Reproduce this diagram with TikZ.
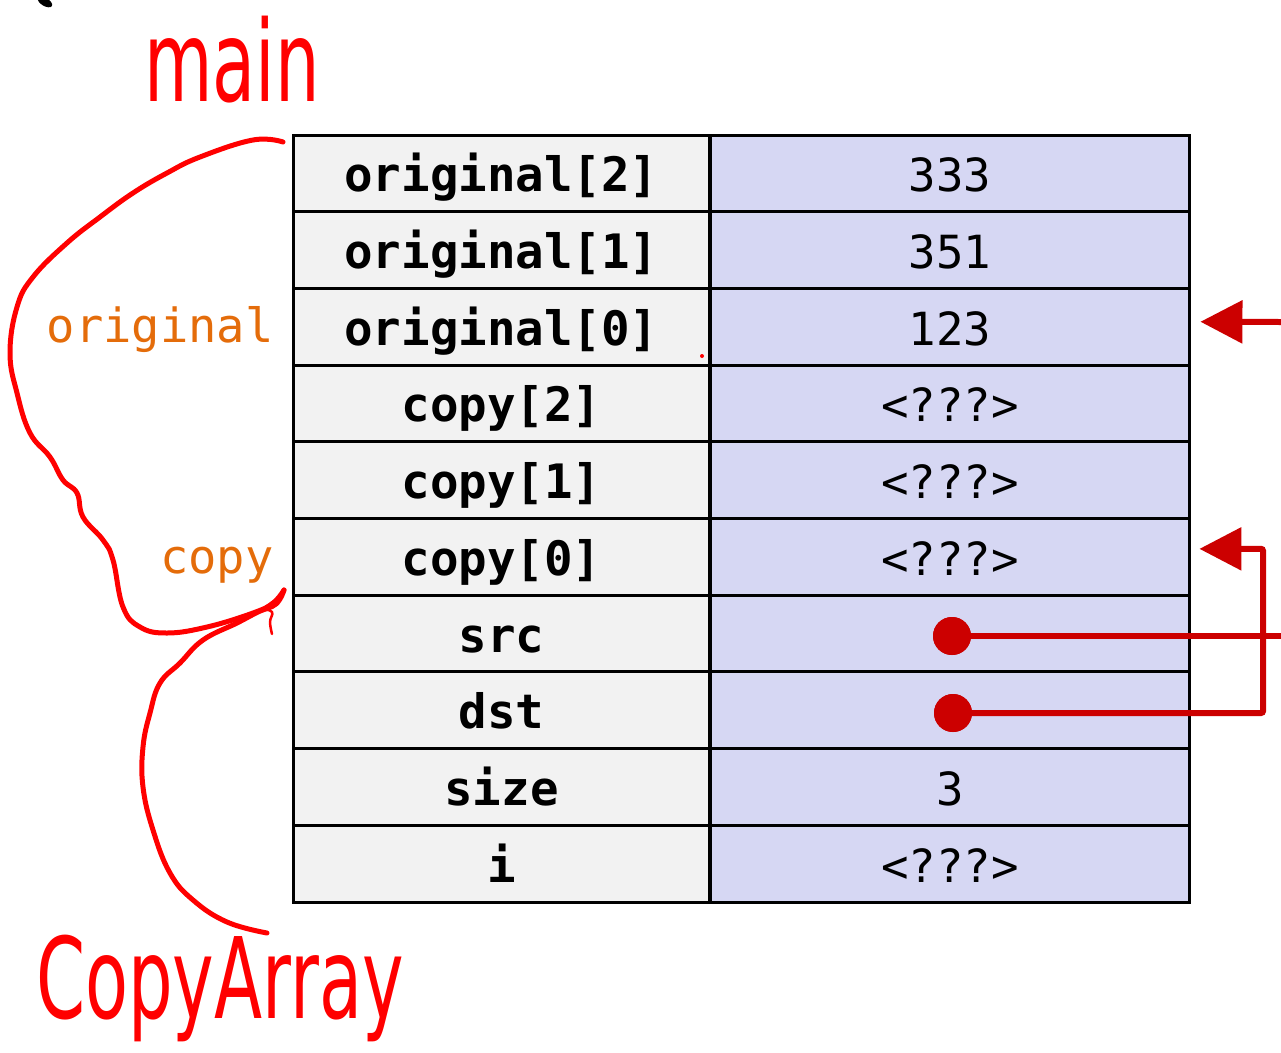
\documentclass[tikz,border=0pt]{standalone}
\usepackage{fontspec}
\usepackage{graphicx}
\setmonofont{DejaVu Sans Mono}
\newfontfamily\handfont{DejaVu Sans}
\usetikzlibrary{arrows.meta}

\definecolor{cellgray}{HTML}{F2F2F2}
\definecolor{cellblue}{HTML}{D6D7F3}
\definecolor{ptrred}{HTML}{CC0000}
\definecolor{penred}{HTML}{FF0000}
\definecolor{varorange}{HTML}{E46C0A}

\begin{document}
\begin{tikzpicture}[x=0.02cm, y=-0.02cm,
  namecell/.style={draw, line width=0.06cm, fill=cellgray, minimum width=8.34cm, minimum height=1.534cm,
    inner sep=0pt, text height=24pt, text depth=3pt, font=\ttfamily\bfseries\fontsize{27}{30}\selectfont},
  valcell/.style={draw, line width=0.06cm, fill=cellblue, minimum width=9.6cm, minimum height=1.534cm,
    inner sep=0pt, text height=24pt, text depth=3pt, font=\ttfamily\fontsize{26}{30}\selectfont},
  varname/.style={anchor=base east, inner sep=0pt, text=varorange, font=\ttfamily\fontsize{26.8}{30}\selectfont},
  ptr/.style={draw=ptrred, line width=0.12cm, rounded corners=0.04cm},
  ptrdot/.style={circle, fill=ptrred, minimum size=0.76cm, inner sep=0pt},
  pen/.style={draw=penred, line width=0.1cm, line cap=round, line join=round},
  hand/.style={inner sep=0pt, text=penred, font=\handfont\fontsize{40}{44}\selectfont}]
\useasboundingbox (0,0) rectangle (1281,1052);

% stack frame
\foreach \lbl/\val [count=\i] in {original[2]/333, original[1]/351, original[0]/123,
    copy[2]/<???>, copy[1]/<???>, copy[0]/<???>, src/{}, dst/{}, size/3, i/<???>} {
  \node[namecell] (name\i) at (501.5,{135+76.7*(\i-0.5)}) {\lbl};
  \node[valcell] (val\i) at (950,{135+76.7*(\i-0.5)}) {\val};
}

\node[varname] (origlbl) at (274,342) {original};
\node[varname] (copylbl) at (274,573) {copy};

% pointers
\node[ptrdot] (srcdot) at (952,636) {};
\node[ptrdot] (dstdot) at (953,713) {};
\coordinate (srcend) at (1281,636);
\coordinate (inend) at (1281,322);
\coordinate (bend) at (1263,713);
\draw[ptr] (srcdot.center) -- (srcend);
\draw[ptr, -{Triangle[length=0.84cm, width=0.84cm]}] (inend) -- ([xshift=0.18cm, yshift=0.1cm]val3.east);
\draw[ptr, -{Triangle[length=0.84cm, width=0.84cm]}] (dstdot.center) -- (bend) |- ([xshift=0.16cm, yshift=0.16cm]val6.east);
\node[ptrdot] at (srcdot) {};
\node[ptrdot] at (dstdot) {};

% pen annotations
\node[hand] (mainlbl) at (232,60) {\scalebox{1}[1.6]{main}};
\node[hand] (fnlbl) at (220,988) {\scalebox{1}[1.6]{CopyArray}};
\draw[pen] plot[smooth, tension=.7] coordinates {(283,142) (253,140) (200,157) (167,173) (133,193) (100,217)
  (67,243) (33,277) (17,307) (10,353) (17,393) (30,433) (50,457) (63,480) (77,493) (83,517) (103,540)
  (113,560) (123,607) (140,627) (167,633) (207,627) (253,613) (273,603) (284,590)};
\draw[pen] plot[smooth, tension=.7] coordinates {(284,590) (276,604) (258,612) (237,623) (203,640) (180,663)
  (160,683) (150,713) (143,747) (143,787) (153,830) (170,873) (193,900) (227,922) (267,933)};
\draw[pen, line width=0.05cm] plot[smooth, tension=.7] coordinates {(262,609) (272,612) (270,622) (272,634)};
\fill[penred] (702,356) circle (2);
\fill[black] (45,2) ellipse [x radius=8, y radius=4, rotate=-30];
\end{tikzpicture}
\end{document}
